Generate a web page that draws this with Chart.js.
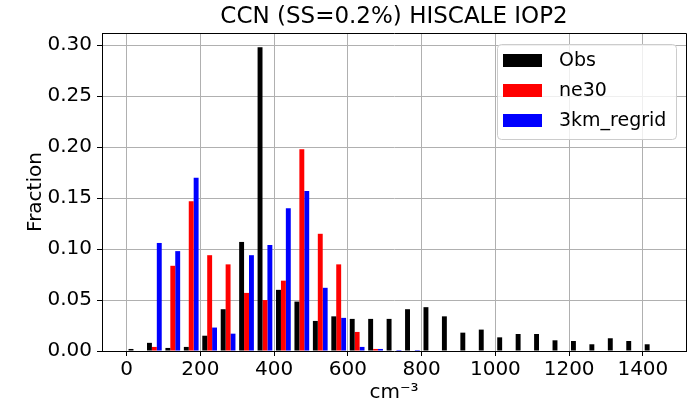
<!DOCTYPE html>
<html>
<head>
<meta charset="utf-8">
<script src="https://cdn.jsdelivr.net/npm/chart.js@4.4.0/dist/chart.umd.min.js"></script>
<style>
	body { margin: 0; background: #fff; }
	#wrap { width: 695px; height: 407px; }
</style>
</head>
<body>
<div id="wrap"><canvas id="histChart"></canvas></div>
<script>
// HISTOGRAM DATA (bins are 50 cm-3 wide, values are bin centres)
const binCenters = [25, 75, 125, 175, 225, 275, 325, 375, 425, 475, 525, 575, 625, 675, 725,
	775, 825, 875, 925, 975, 1025, 1075, 1125, 1175, 1225, 1275, 1325, 1375, 1425];

const obs = [0.002, 0.008, 0.003, 0.004, 0.015, 0.041, 0.107, 0.298, 0.060, 0.0485,
	0.0295, 0.034, 0.0315, 0.0315, 0.0315, 0.041, 0.043, 0.034, 0.018, 0.021,
	0.0134, 0.0167, 0.0167, 0.0105, 0.0098, 0.0066, 0.0125, 0.0098, 0.0066];

const ne30 = [0, 0.004, 0.0836, 0.147, 0.094, 0.085, 0.057, 0.050, 0.069, 0.198,
	0.115, 0.085, 0.0187, 0.002, 0, 0, 0, 0, 0, 0,
	0, 0, 0, 0, 0, 0, 0, 0, 0];

const km3 = [0, 0.106, 0.098, 0.170, 0.023, 0.017, 0.094, 0.104, 0.140, 0.157,
	0.062, 0.0325, 0.004, 0.002, 0.001, 0.001, 0, 0, 0, 0,
	0, 0, 0, 0, 0, 0, 0, 0, 0];

const seriesLabels = ['Obs', 'ne30', '3km_regrid'];
const seriesColors = ['rgb(0, 0, 0)', 'rgb(255, 0, 0)', 'rgb(0, 0, 255)'];

const xTicks = [0, 200, 400, 600, 800, 1000, 1200, 1400];
const yTicks = [0, 0.05, 0.10, 0.15, 0.20, 0.25, 0.30];

const chartTitle = 'CCN (SS=0.2%) HISCALE IOP2';

Chart.defaults.font.family = 'DejaVu Sans';
Chart.defaults.color = '#000';

function toPoints(values) {
	return binCenters.map((c, i) => ({x: c, y: values[i]}));
}

// title centred over the axes (not the whole canvas), like matplotlib
const axesTitle = {
	id: 'axesTitle',
	afterDraw(chart) {
		const {ctx, chartArea} = chart;
		ctx.save();
		ctx.font = '23px "DejaVu Sans"';
		ctx.fillStyle = '#000';
		ctx.textAlign = 'center';
		ctx.textBaseline = 'middle';
		ctx.fillText(chartTitle, (chartArea.left + chartArea.right) / 2, 17);
		ctx.restore();
	}
};

// top and right spines, drawn over the bars like matplotlib does
const frame = {
	id: 'frame',
	afterDatasetsDraw(chart) {
		const {ctx, chartArea} = chart;
		ctx.save();
		ctx.strokeStyle = '#000';
		ctx.lineWidth = 1;
		ctx.beginPath();
		ctx.moveTo(Math.round(chartArea.left) + 0.5, Math.round(chartArea.top) + 0.5);
		ctx.lineTo(Math.round(chartArea.right) + 0.5, Math.round(chartArea.top) + 0.5);
		ctx.lineTo(Math.round(chartArea.right) + 0.5, Math.round(chartArea.bottom) + 0.5);
		ctx.stroke();
		ctx.restore();
	}
};

// LEGEND INSIDE THE AXES (upper right)
const insideLegend = {
	id: 'insideLegend',
	afterDraw(chart) {
		const {ctx, chartArea} = chart;
		const boxW = 179, boxH = 95;
		const x0 = chartArea.right - 10 - boxW;
		const y0 = chartArea.top + 11;

		ctx.save();
		ctx.beginPath();
		ctx.roundRect(x0 + 0.5, y0 + 0.5, boxW, boxH, 4);
		ctx.fillStyle = 'rgba(255, 255, 255, 0.8)';
		ctx.fill();
		ctx.strokeStyle = '#cccccc';
		ctx.lineWidth = 1;
		ctx.stroke();

		ctx.font = '19px "DejaVu Sans"';
		ctx.textBaseline = 'middle';
		chart.data.datasets.forEach((ds, i) => {
			const cy = y0 + 16 + i * 30;
			ctx.fillStyle = ds.backgroundColor;
			ctx.fillRect(x0 + 6, cy - 6, 39, 13);
			ctx.fillStyle = '#000';
			ctx.fillText(ds.label, x0 + 62, cy + 1);
		});
		ctx.restore();
	}
};

const data = {
	datasets: [obs, ne30, km3].map((values, i) => ({
		label: seriesLabels[i],
		data: toPoints(values),
		backgroundColor: seriesColors[i],
		borderWidth: 0,
		categoryPercentage: 0.8,
		barPercentage: 1.0
	}))
};

const config = {
	type: 'bar',
	data: data,
	options: {
		responsive: true,
		maintainAspectRatio: false,
		animation: false,
		layout: {
			padding: {left: 0, right: 9, top: 33, bottom: 0}
		},
		plugins: {
			legend: {display: false},
			tooltip: {enabled: false},
			title: {display: false}
		},
		scales: {
			x: {
				type: 'linear',
				min: -67,
				max: 1517,
				offset: false,
				afterBuildTicks: (scale) => {
					scale.ticks = xTicks.map(v => ({value: v}));
				},
				afterFit: (scale) => {
					scale.height = 56;
				},
				ticks: {
					font: {size: 20},
					padding: 2,
					maxRotation: 0,
					callback: (v) => String(v)
				},
				grid: {
					offset: false,
					color: '#b0b0b0',
					lineWidth: 1,
					tickLength: 5,
					tickColor: '#000'
				},
				border: {display: true, color: '#000', width: 1},
				title: {
					display: true,
					text: 'cm\u207B\u00B3',
					font: {size: 20},
					padding: {top: 0, bottom: 2}
				}
			},
			y: {
				min: 0,
				max: 0.312,
				afterBuildTicks: (scale) => {
					scale.ticks = yTicks.map(v => ({value: v}));
				},
				afterFit: (scale) => {
					scale.width = 102;
				},
				ticks: {
					font: {size: 20},
					padding: 5,
					callback: (v) => v.toFixed(2)
				},
				grid: {
					color: '#b0b0b0',
					lineWidth: 1,
					tickLength: 5,
					tickColor: '#000'
				},
				border: {display: true, color: '#000', width: 1},
				title: {
					display: true,
					text: 'Fraction',
					font: {size: 20},
					padding: {top: 24, bottom: 0}
				}
			}
		}
	},
	plugins: [frame, insideLegend, axesTitle]
};

const histChart = new Chart(
	document.getElementById('histChart'),
	config
);
</script>
</body>
</html>
